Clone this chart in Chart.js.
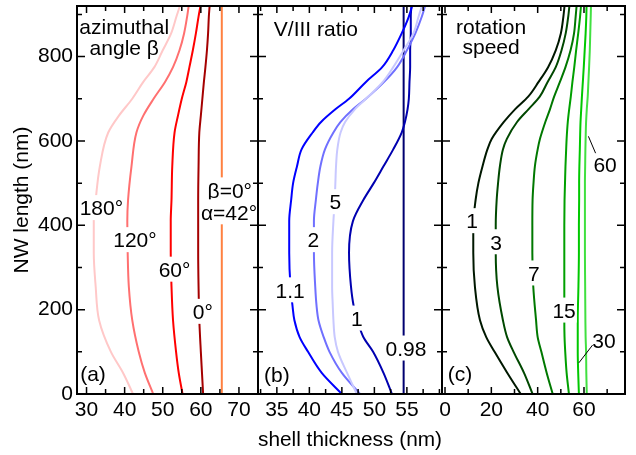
<!DOCTYPE html>
<html><head><meta charset="utf-8">
<script src="https://cdn.jsdelivr.net/npm/chart.js@4"></script>
<style>
html,body{margin:0;padding:0;background:#fff;}
#wrap{position:relative;width:636px;height:455px;}
canvas{position:absolute;left:0;top:0;}
</style>
</head><body>
<div id="wrap">
<canvas id="ca" width="636" height="455"></canvas>
<canvas id="cb" width="636" height="455"></canvas>
<canvas id="cc" width="636" height="455"></canvas>
</div>
<script>
// ---------- data (NW length in nm, shell thickness in nm) ----------
const ticksY = [0, 200, 400, 600, 800];
const ticksA = [30, 40, 50, 60, 70];
const ticksB = [35, 40, 45, 50, 55];
const ticksC = [0, 20, 40, 60];

// panel (a): azimuthal angle beta
const lengthA = [0,50,100,175,255,335,410,460,540,620,660,700,740,775,815,855,895,920];
const beta180 = [42.2,39.6,36.4,33.3,32.4,31.9,31.9,32.4,33.5,35.7,38.5,42.0,44.9,47.8,50.0,52.2,53.6,54.5];
const beta120 = [47.5,45.3,43.7,42.0,41.1,40.8,40.7,40.9,41.8,43.1,44.9,47.6,50.6,52.7,54.4,55.6,56.4,56.8];
const beta60  = [55.2,54.2,53.5,52.7,52.3,52.1,52.1,52.3,52.5,53.1,54.0,55.0,56.2,57.0,57.9,58.7,59.4,59.9];
const beta0   = [60.6,60.3,60.0,59.6,59.4,59.3,59.3,59.3,59.4,59.6,60.0,60.4,60.8,61.2,61.6,61.9,62.1,62.3];
const lengthA2 = [0, 920];
const beta0alpha42 = [65.5, 65.5];

// panel (b): V/III ratio
const lengthB = [0,50,100,135,175,210,255,335,410,460,500,540,580,620,645,675,700,740,775,815,855,895,920];
const ratio11 = [45.0,41.9,39.8,38.5,37.7,37.4,37.1,36.9,36.9,37.2,37.5,38.1,38.8,40.5,41.8,44.0,46.1,48.7,51.2,52.9,54.2,55.3,55.8];
const ratio2  = [47.8,45.0,43.1,42.2,41.4,41.1,40.9,40.7,40.7,41.0,41.3,41.7,42.4,43.7,44.8,46.7,48.7,51.5,53.5,55.0,56.3,57.3,57.8];
const ratio5  = [47.3,45.8,44.4,43.9,43.7,43.6,43.5,43.5,43.7,43.9,44.0,44.1,44.3,44.8,45.5,47.0,48.7,51.3,52.9,54.5,56.0,56.8,57.3];
const ratio1  = [52.7,51.4,49.8,48.3,47.4,46.8,46.4,46.1,46.7,48.3,49.9,51.4,52.9,54.2,54.7,55.1,55.3,55.4,55.5,55.5,55.6,55.6,55.7];
const lengthB2 = [0, 920];
const ratio098 = [54.5, 54.5];

// panel (c): rotation speed
const lengthC = [0,50,100,135,175,255,335,400,460,500,540,580,605,645,675,705,740,775,815,855,895,920];
const speed1  = [32.7,26.9,21.4,17.8,15.1,12.9,12.2,12.2,13.2,14.4,16.2,18.3,20.2,25.4,30.2,35.9,40.4,44.5,47.8,50.0,51.1,51.6];
const speed3  = [37.8,34.1,29.6,26.8,25.0,22.6,21.9,21.9,22.3,22.9,23.7,25.0,26.7,31.1,36.0,40.9,44.3,47.8,50.3,52.1,53.2,53.7];
const speed7  = [46.5,43.9,41.6,40.0,39.3,38.1,37.7,37.7,37.8,38.2,38.8,40.0,41.0,43.3,45.3,47.1,49.6,52.0,54.2,55.7,56.4,56.8];
const speed15 = [53.5,52.5,51.9,51.6,51.5,51.5,51.5,51.5,51.6,51.8,52.0,52.3,52.5,53.0,53.6,54.3,55.0,55.8,56.6,57.5,58.3,58.7];
const speed30 = [57.8,57.5,57.3,57.3,57.3,57.6,57.8,57.8,57.9,57.9,58.0,58.2,58.3,58.5,58.8,59.1,59.5,59.9,60.3,60.7,61.0,61.1];
const speed60 = [61.2,61.0,60.9,60.7,60.6,60.5,60.4,60.4,60.4,60.4,60.5,60.6,60.7,60.9,61.2,61.6,61.9,62.2,62.5,62.7,62.9,63.0];

// ---------- rendering ----------
const FONT = '"Liberation Sans", Arial, Helvetica, sans-serif';
const FS = 21;
function pts(ys, xs){ return ys.map((y,i)=>({x: xs[i], y: y})); }
function ds(ys, xs, color){
  return {data: pts(ys, xs), borderColor: color, borderWidth: 2, pointRadius: 0,
          cubicInterpolationMode: 'monotone', fill: false};
}

const framePlugin = {
  id: 'frame',
  afterDatasetsDraw(chart, args, opts){
    const ctx = chart.ctx, xs = chart.scales.x, ys = chart.scales.y, a = chart.chartArea;
    ctx.save();
    ctx.strokeStyle = '#000'; ctx.lineWidth = 1;
    (opts.leaders || []).forEach(l => {
      ctx.beginPath();
      ctx.moveTo(xs.getPixelForValue(l.x1), ys.getPixelForValue(l.y1));
      ctx.lineTo(xs.getPixelForValue(l.x2), ys.getPixelForValue(l.y2));
      ctx.stroke();
    });
    ctx.font = FS + 'px ' + FONT;
    ctx.textAlign = 'center'; ctx.textBaseline = 'middle';
    (opts.labels || []).forEach(l => {
      const px = xs.getPixelForValue(l.x), py = ys.getPixelForValue(l.y);
      const w = ctx.measureText(l.t).width;
      if (l.box){ ctx.fillStyle = '#fff'; ctx.fillRect(px - w/2 - 1, py - 12.5, w + 2, 25); }
      ctx.fillStyle = '#000';
      ctx.fillText(l.t, px, py + 2);
    });
    ctx.strokeStyle = '#000'; ctx.lineWidth = 2;
    ctx.strokeRect(a.left, a.top, a.right - a.left, a.bottom - a.top);
    ctx.lineWidth = 1.5;
    const ystep = 100;
    for (let v = Math.ceil(ys.min / ystep) * ystep; v <= ys.max; v += ystep){
      const L = ticksY.indexOf(v) >= 0 ? 8 : 5;
      const p = ys.getPixelForValue(v);
      ctx.beginPath();
      ctx.moveTo(a.left, p); ctx.lineTo(a.left + L, p);
      ctx.moveTo(a.right, p); ctx.lineTo(a.right - L, p);
      ctx.stroke();
    }
    const xstep = opts.xMinor;
    for (let k = Math.ceil(xs.min / xstep); k * xstep <= xs.max; k++){
      const v = +(k * xstep).toFixed(4);
      const L = opts.xMajor.indexOf(v) >= 0 ? 7 : 5;
      const p = xs.getPixelForValue(v);
      ctx.beginPath();
      ctx.moveTo(p, a.bottom); ctx.lineTo(p, a.bottom - L);
      ctx.moveTo(p, a.top); ctx.lineTo(p, a.top + L);
      ctx.stroke();
    }
    ctx.restore();
  }
};

function makeChart(id, cfg){
  const yScale = {
    type: 'linear', min: 0, max: 920,
    display: cfg.showY,
    grid: {display: false, drawTicks: false},
    border: {display: false},
    ticks: {font: {family: FONT, size: FS}, color: '#000', padding: 4},
    afterBuildTicks: s => { s.ticks = ticksY.map(v => ({value: v})); },
    afterFit: s => { if (cfg.showY) s.width = 77; s.paddingTop = 0; s.paddingBottom = 0; },
    title: {display: cfg.showY, text: 'NW length (nm)', font: {family: FONT, size: FS}, color: '#000', padding: {top: 10, bottom: 0}}
  };
  const xScale = {
    type: 'linear', min: cfg.xmin, max: cfg.xmax,
    grid: {display: false, drawTicks: false},
    border: {display: false},
    ticks: {font: {family: FONT, size: FS}, color: '#000', padding: 4, maxRotation: 0},
    afterBuildTicks: s => { s.ticks = cfg.xTicks.map(v => ({value: v})); },
    afterFit: s => { s.height = 61; s.paddingLeft = 0; s.paddingRight = 0; },
    title: {display: !!cfg.xTitle, text: cfg.xTitle || '', font: {family: FONT, size: FS}, color: '#000', padding: {top: 0, bottom: 2}}
  };
  return new Chart(document.getElementById(id), {
    type: 'line',
    data: {datasets: cfg.datasets},
    options: {
      indexAxis: 'y',
      responsive: false, maintainAspectRatio: false, animation: false, devicePixelRatio: 1,
      layout: {padding: cfg.pad},
      scales: {x: xScale, y: yScale},
      plugins: {
        legend: {display: false}, tooltip: {enabled: false},
        frame: {labels: cfg.labels, leaders: cfg.leaders || [], xMajor: cfg.xTicks, xMinor: cfg.xMinor}
      }
    },
    plugins: [framePlugin]
  });
}

makeChart('ca', {
  showY: true, xmin: 27.5, xmax: 75, xTicks: ticksA, xMinor: 5,
  pad: {left: 0, right: 378, top: 6, bottom: 0},
  datasets: [
    ds(lengthA, beta180, '#FFC8C8'),
    ds(lengthA, beta120, '#FF7070'),
    ds(lengthA, beta60, '#FF0000'),
    ds(lengthA, beta0, '#A50000'),
    ds(lengthA2, beta0alpha42, '#FF8040')
  ],
  labels: [
    {t: 'azimuthal', x: 39.9, y: 873},
    {t: 'angle β', x: 39.9, y: 822},
    {t: '180°', x: 33.9, y: 442, box: true},
    {t: '120°', x: 42.7, y: 366, box: true},
    {t: '60°', x: 53.1, y: 296, box: true},
    {t: '0°', x: 60.5, y: 196, box: true},
    {t: 'β=0°', x: 67.6, y: 484, box: true},
    {t: 'α=42°', x: 67.4, y: 432, box: true},
    {t: '(a)', x: 31.7, y: 50}
  ]
});

makeChart('cb', {
  showY: false, xmin: 32.1, xmax: 60.4, xTicks: ticksB, xMinor: 2.5,
  xTitle: 'shell thickness (nm)',
  pad: {left: 258, right: 194, top: 6, bottom: 0},
  datasets: [
    ds(lengthB, ratio5, '#C8C8FF'),
    ds(lengthB, ratio2, '#7070FF'),
    ds(lengthB, ratio11, '#0000FF'),
    ds(lengthB, ratio1, '#0000B0'),
    ds(lengthB2, ratio098, '#000070')
  ],
  labels: [
    {t: 'V/III ratio', x: 41.0, y: 868},
    {t: '1.1', x: 37.05, y: 247, box: true},
    {t: '2', x: 40.6, y: 366, box: true},
    {t: '5', x: 44.0, y: 456, box: true},
    {t: '1', x: 47.3, y: 180, box: true},
    {t: '0.98', x: 54.85, y: 109, box: true},
    {t: '(b)', x: 35.0, y: 47}
  ]
});

makeChart('cc', {
  showY: false, xmin: -1.3, xmax: 77.7, xTicks: ticksC, xMinor: 10,
  pad: {left: 442, right: 11, top: 6, bottom: 0},
  datasets: [
    ds(lengthC, speed1, '#001800'),
    ds(lengthC, speed3, '#004800'),
    ds(lengthC, speed7, '#007800'),
    ds(lengthC, speed15, '#00A000'),
    ds(lengthC, speed30, '#00C800'),
    ds(lengthC, speed60, '#40E040')
  ],
  labels: [
    {t: 'rotation', x: 19.9, y: 873},
    {t: 'speed', x: 19.9, y: 825},
    {t: '1', x: 11.65, y: 411, box: true},
    {t: '3', x: 22.0, y: 361, box: true},
    {t: '7', x: 38.4, y: 287, box: true},
    {t: '15', x: 51.4, y: 199, box: true},
    {t: '30', x: 68.6, y: 128},
    {t: '60', x: 69.1, y: 546},
    {t: '(c)', x: 6.5, y: 50}
  ],
  leaders: [
    {x1: 63.7, y1: 116, x2: 57.8, y2: 74},
    {x1: 61.9, y1: 611, x2: 65.0, y2: 571}
  ]
});
</script>
</body></html>
